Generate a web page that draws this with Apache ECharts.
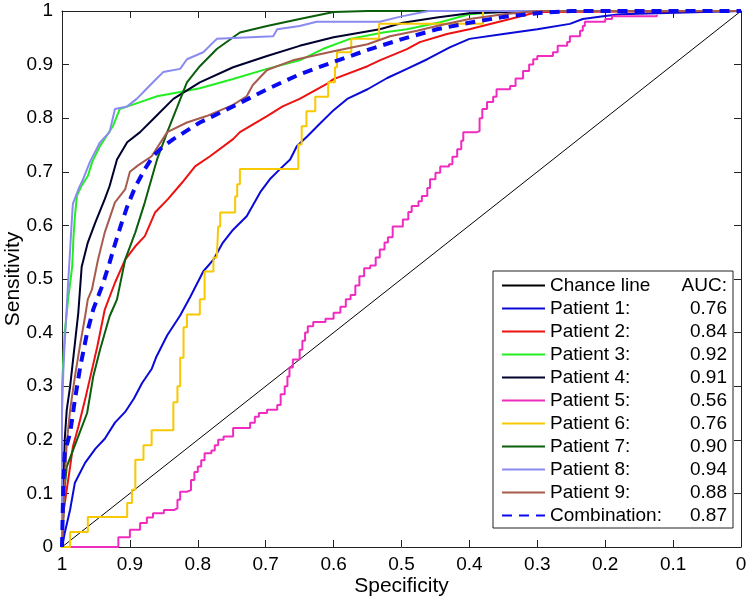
<!DOCTYPE html>
<html>
<head>
<meta charset="utf-8">
<script src="https://cdn.jsdelivr.net/npm/echarts@6/dist/echarts.min.js"></script>
<style>html,body{margin:0;padding:0;background:#fff}#c{width:754px;height:600px}</style>
</head>
<body>
<div id="c"></div>
<script>
// ---- data: [specificity, sensitivity] ----
const chance = [[1,0],[0,1]];
const p1 = [[1,0],[0.996,0.026],[0.988,0.07],[0.981,0.12],[0.966,0.157],[0.951,0.183],[0.937,0.202],[0.922,0.232],[0.907,0.252],[0.894,0.277],[0.882,0.306],[0.868,0.332],[0.861,0.355],[0.845,0.395],[0.826,0.432],[0.811,0.467],[0.792,0.514],[0.777,0.536],[0.763,0.568],[0.748,0.592],[0.728,0.617],[0.708,0.662],[0.694,0.686],[0.679,0.705],[0.664,0.723],[0.654,0.748],[0.639,0.766],[0.62,0.79],[0.6,0.815],[0.58,0.836],[0.55,0.854],[0.521,0.875],[0.492,0.892],[0.462,0.91],[0.429,0.932],[0.4,0.948],[0.35,0.957],[0.3,0.966],[0.252,0.976],[0.233,0.985],[0.203,0.99],[0.178,0.994],[0,1]];
const p2 = [[1,0],[0.998,0.063],[0.993,0.107],[0.988,0.15],[0.984,0.187],[0.976,0.224],[0.966,0.275],[0.956,0.33],[0.948,0.374],[0.937,0.443],[0.922,0.493],[0.907,0.536],[0.892,0.561],[0.878,0.58],[0.863,0.624],[0.844,0.649],[0.823,0.68],[0.804,0.71],[0.782,0.729],[0.748,0.761],[0.738,0.774],[0.698,0.804],[0.675,0.822],[0.65,0.836],[0.61,0.864],[0.6,0.873],[0.55,0.897],[0.532,0.908],[0.492,0.929],[0.473,0.942],[0.433,0.957],[0.4,0.966],[0.34,0.985],[0.3,0.998],[0,1]];
const p3 = [[1,0],[1,0.3],[0.998,0.35],[0.996,0.4],[0.991,0.462],[0.985,0.523],[0.983,0.58],[0.981,0.617],[0.978,0.655],[0.972,0.672],[0.962,0.692],[0.955,0.72],[0.944,0.748],[0.925,0.785],[0.915,0.817],[0.885,0.83],[0.86,0.841],[0.826,0.849],[0.797,0.856],[0.748,0.873],[0.698,0.892],[0.65,0.908],[0.616,0.929],[0.576,0.948],[0.527,0.96],[0.492,0.966],[0.443,0.979],[0.4,0.994],[0.34,1],[0,1]];
const p4 = [[1,0],[0.998,0.1],[0.996,0.2],[0.993,0.256],[0.988,0.3],[0.981,0.38],[0.976,0.437],[0.971,0.523],[0.962,0.568],[0.951,0.605],[0.937,0.649],[0.93,0.673],[0.919,0.723],[0.904,0.755],[0.885,0.774],[0.866,0.798],[0.836,0.836],[0.797,0.867],[0.748,0.895],[0.698,0.916],[0.65,0.935],[0.6,0.951],[0.532,0.966],[0.498,0.978],[0.448,0.988],[0.4,0.996],[0.3,1],[0,1]];
const p5 = [[1,0],[0.922,0],[0.917,0.018],[0.9,0.032],[0.885,0.045],[0.875,0.055],[0.866,0.063],[0.85,0.069],[0.835,0.072],[0.83,0.088],[0.826,0.103],[0.816,0.106],[0.81,0.125],[0.805,0.14],[0.8,0.15],[0.795,0.162],[0.79,0.175],[0.78,0.18],[0.775,0.19],[0.77,0.2],[0.762,0.206],[0.748,0.222],[0.723,0.232],[0.716,0.243],[0.71,0.25],[0.698,0.256],[0.683,0.265],[0.678,0.285],[0.672,0.3],[0.668,0.318],[0.665,0.335],[0.66,0.35],[0.65,0.368],[0.646,0.385],[0.642,0.4],[0.638,0.412],[0.63,0.42],[0.612,0.426],[0.6,0.437],[0.59,0.448],[0.582,0.462],[0.575,0.47],[0.568,0.488],[0.562,0.505],[0.555,0.52],[0.546,0.525],[0.538,0.54],[0.532,0.555],[0.525,0.568],[0.52,0.578],[0.513,0.598],[0.498,0.611],[0.49,0.625],[0.485,0.636],[0.475,0.645],[0.47,0.655],[0.462,0.67],[0.458,0.686],[0.45,0.698],[0.443,0.71],[0.43,0.714],[0.425,0.728],[0.418,0.742],[0.412,0.758],[0.409,0.774],[0.389,0.776],[0.385,0.8],[0.381,0.817],[0.374,0.83],[0.365,0.84],[0.36,0.854],[0.34,0.86],[0.332,0.874],[0.321,0.888],[0.312,0.9],[0.306,0.91],[0.3,0.916],[0.277,0.923],[0.27,0.935],[0.256,0.942],[0.252,0.953],[0.237,0.963],[0.233,0.972],[0.23,0.98],[0.203,0.98],[0.2,0.985],[0.19,0.99],[0.124,0.993]];
const p6 = [[1,0],[0.988,0],[0.988,0.028],[0.962,0.028],[0.962,0.056],[0.904,0.056],[0.904,0.082],[0.897,0.082],[0.897,0.107],[0.892,0.107],[0.892,0.163],[0.88,0.163],[0.88,0.19],[0.868,0.19],[0.868,0.218],[0.836,0.218],[0.836,0.27],[0.83,0.27],[0.83,0.3],[0.826,0.3],[0.826,0.353],[0.821,0.353],[0.821,0.41],[0.816,0.41],[0.816,0.434],[0.797,0.434],[0.797,0.462],[0.79,0.462],[0.79,0.514],[0.777,0.514],[0.777,0.54],[0.772,0.54],[0.77,0.598],[0.767,0.598],[0.767,0.624],[0.745,0.624],[0.745,0.654],[0.742,0.654],[0.742,0.677],[0.738,0.677],[0.738,0.705],[0.652,0.705],[0.652,0.751],[0.647,0.751],[0.647,0.785],[0.64,0.785],[0.64,0.813],[0.627,0.813],[0.627,0.84],[0.608,0.84],[0.608,0.867],[0.598,0.867],[0.598,0.895],[0.595,0.895],[0.595,0.923],[0.574,0.923],[0.574,0.948],[0.533,0.948],[0.533,0.976],[0.38,0.976],[0.38,1],[0,1]];
const p7 = [[1,0],[0.998,0.06],[0.996,0.112],[0.993,0.15],[0.978,0.2],[0.963,0.25],[0.954,0.318],[0.944,0.368],[0.93,0.43],[0.919,0.462],[0.907,0.536],[0.892,0.587],[0.878,0.643],[0.863,0.71],[0.86,0.723],[0.845,0.774],[0.83,0.822],[0.816,0.867],[0.797,0.897],[0.772,0.929],[0.738,0.96],[0.698,0.972],[0.65,0.985],[0.6,0.998],[0.55,1],[0,1]];
const p8 = [[1,0],[1,0.25],[0.998,0.33],[0.996,0.38],[0.991,0.493],[0.988,0.555],[0.986,0.6],[0.984,0.64],[0.975,0.67],[0.969,0.686],[0.959,0.718],[0.944,0.755],[0.93,0.774],[0.922,0.817],[0.904,0.822],[0.89,0.836],[0.88,0.849],[0.866,0.867],[0.851,0.886],[0.826,0.892],[0.816,0.91],[0.792,0.923],[0.772,0.948],[0.689,0.953],[0.683,0.966],[0.65,0.972],[0.625,0.98],[0.532,0.98],[0.5,0.99],[0.46,1],[0,1]];
const p9 = [[1,0],[0.998,0.06],[0.996,0.125],[0.993,0.194],[0.988,0.256],[0.981,0.318],[0.973,0.38],[0.966,0.43],[0.962,0.462],[0.956,0.48],[0.947,0.536],[0.937,0.587],[0.922,0.643],[0.907,0.667],[0.9,0.7],[0.888,0.712],[0.868,0.729],[0.845,0.774],[0.816,0.792],[0.787,0.804],[0.748,0.825],[0.728,0.841],[0.719,0.862],[0.698,0.89],[0.66,0.908],[0.6,0.925],[0.55,0.938],[0.517,0.953],[0.477,0.963],[0.448,0.972],[0.4,0.985],[0.35,0.994],[0.3,1],[0,1]];
const combo = [[1,0],[0.999,0.06],[0.998,0.12],[0.996,0.176],[0.988,0.213],[0.981,0.275],[0.973,0.337],[0.963,0.4],[0.954,0.443],[0.946,0.47],[0.94,0.49],[0.93,0.53],[0.922,0.565],[0.912,0.605],[0.904,0.635],[0.892,0.672],[0.878,0.705],[0.866,0.729],[0.853,0.745],[0.836,0.761],[0.797,0.792],[0.748,0.822],[0.698,0.854],[0.65,0.882],[0.6,0.905],[0.546,0.929],[0.498,0.948],[0.448,0.966],[0.4,0.978],[0.35,0.989],[0.3,0.996],[0.25,1],[0,1]];

const seriesNames = ['Chance line','Patient 1:','Patient 2:','Patient 3:','Patient 4:','Patient 5:','Patient 6:','Patient 7:','Patient 8:','Patient 9:','Combination:'];
const aucLabels = ['AUC:','0.76','0.84','0.92','0.91','0.56','0.76','0.90','0.94','0.88','0.87'];
const seriesData = [chance,p1,p2,p3,p4,p5,p6,p7,p8,p9,combo];

// ---- styles ----
const colors = ['#000000','#0a0ad8','#ee1111','#22ee22','#00002e','#f02cc0','#f8c800','#0b5e0b','#8a8af0','#a65c4c','#0a0af0'];
const widths = [1,2,2,2,2,2,2,2,2,2,4];
const FONT = '"Liberation Sans", Arial, Helvetica, sans-serif';
const aucMap = {};
seriesNames.forEach((n,i)=>aucMap[n]=aucLabels[i]);

const fmt = v => String(+(+v).toFixed(1));
const axisCommon = {
  type:'value', min:0, max:1, interval:0.1,
  axisLine:{show:true, onZero:false, lineStyle:{color:'#222', width:1}},
  axisTick:{show:true, inside:true, length:7, lineStyle:{color:'#222'}},
  splitLine:{show:false}
};

const series = seriesData.map((d,i)=>({
  name: seriesNames[i], type:'line', data:d, symbol:'none', showSymbol:false,
  step: i===5 ? 'end' : false,
  lineStyle:{color:colors[i], width:widths[i], type: i===10 ? [10,7] : 'solid'},
  itemStyle:{color:colors[i]},
  z: 2+i, silent:true, animation:false
}));

const chart = echarts.init(document.getElementById('c'), null, {renderer:'canvas'});
chart.setOption({
  animation:false,
  backgroundColor:'#fff',
  textStyle:{fontFamily:FONT},
  grid:{left:62, right:13, top:11, bottom:53, containLabel:false, outerBoundsMode:'none'},
  xAxis:[
    Object.assign({}, axisCommon, {position:'bottom', inverse:true,
      name:'Specificity', nameLocation:'middle', nameGap:29, nameMoveOverlap:false,
      nameTextStyle:{fontSize:21, color:'#000', fontFamily:FONT},
      axisLabel:{show:true, formatter:fmt, fontSize:19, color:'#000', margin:8, fontFamily:FONT}}),
    Object.assign({}, axisCommon, {position:'top', inverse:true, axisLabel:{show:false}})
  ],
  yAxis:[
    Object.assign({}, axisCommon, {position:'left',
      name:'Sensitivity', nameLocation:'middle', nameGap:38, nameRotate:90, nameMoveOverlap:false,
      nameTextStyle:{fontSize:21, color:'#000', fontFamily:FONT},
      axisLabel:{show:true, formatter:fmt, fontSize:19, color:'#000', margin:9, fontFamily:FONT}}),
    Object.assign({}, axisCommon, {position:'right', axisLabel:{show:false}})
  ],
  legend:{
    orient:'vertical', left:493, top:271,
    padding:[5,6,3,8], itemGap:4, itemWidth:43, itemHeight:14,
    backgroundColor:'#fff', borderColor:'#222', borderWidth:1,
    selectedMode:false,
    itemStyle:{color:'rgba(0,0,0,0)', borderWidth:0, opacity:0},
    data: seriesNames,
    formatter: n => '{n|' + n + '}{v|' + aucMap[n] + '}',
    textStyle:{fontSize:19, color:'#000', fontFamily:FONT,
      rich:{ n:{width:135, fontSize:19, lineHeight:20, fontFamily:FONT, color:'#000'},
             v:{width:42, align:'right', fontSize:19, lineHeight:20, fontFamily:FONT, color:'#000'} }}
  },
  series: series
});
</script>
</body>
</html>
